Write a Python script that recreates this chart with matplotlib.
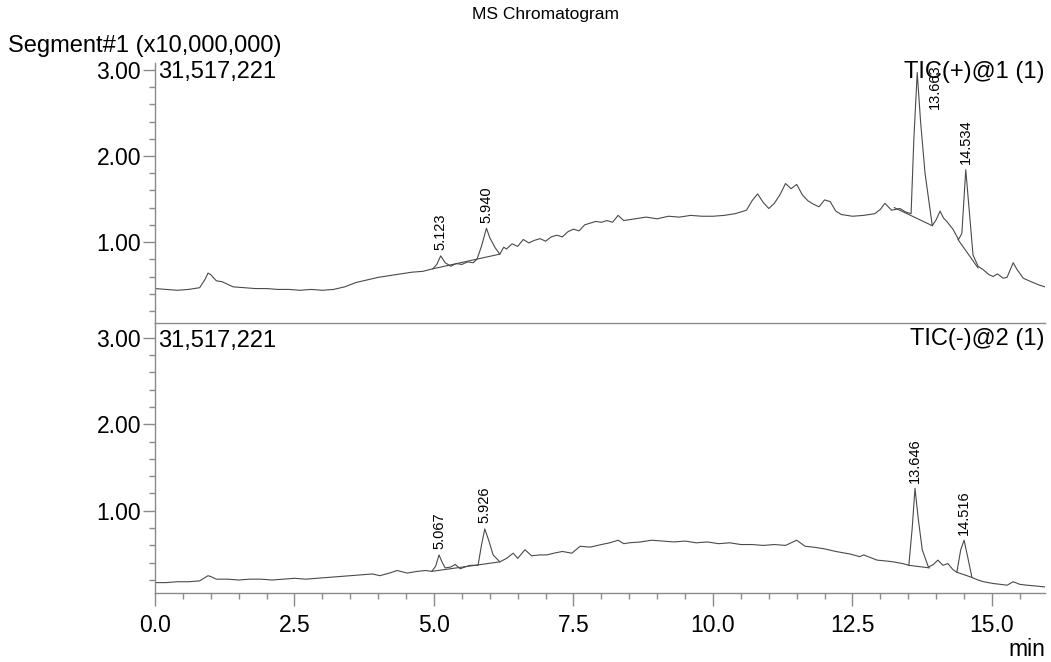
import matplotlib
matplotlib.use("Agg")
import matplotlib.pyplot as plt
from matplotlib.ticker import MultipleLocator, FixedLocator

plt.rcParams['font.family'] = ['Liberation Sans', 'DejaVu Sans']

# ---------------- data ----------------
title = "MS Chromatogram"
segment_label = "Segment#1 (x10,000,000)"
max_intensity_label = "31,517,221"
trace_names = ["TIC(+)@1 (1)", "TIC(-)@2 (1)"]

t_pos = [0.0, 0.2, 0.4, 0.6, 0.8, 0.9, 0.95, 1.0, 1.1, 1.2, 1.4, 1.6, 1.8, 2.0, 2.2, 2.4,
         2.6, 2.8, 3.0, 3.2, 3.4, 3.6, 3.8, 4.0, 4.2, 4.4, 4.6, 4.8, 4.98, 5.05, 5.12, 5.2,
         5.3, 5.4, 5.5, 5.6, 5.7, 5.77, 5.85, 5.94, 6.0, 6.1, 6.18, 6.25, 6.3, 6.4, 6.5,
         6.6, 6.7, 6.8, 6.9, 7.0, 7.1, 7.2, 7.3, 7.4, 7.5, 7.6, 7.7, 7.8, 7.9, 8.0, 8.1,
         8.2, 8.3, 8.4, 8.5, 8.6, 8.8, 9.0, 9.2, 9.4, 9.6, 9.8, 10.0, 10.2, 10.4, 10.6,
         10.7, 10.8, 10.9, 11.0, 11.1, 11.2, 11.3, 11.4, 11.5, 11.6, 11.7, 11.8, 11.9,
         12.0, 12.1, 12.2, 12.3, 12.5, 12.7, 12.9, 13.0, 13.08, 13.2, 13.35, 13.45, 13.55,
         13.6, 13.66, 13.72, 13.8, 13.93, 14.0, 14.07, 14.13, 14.19, 14.3, 14.4, 14.46,
         14.53, 14.6, 14.66, 14.75, 14.84, 14.95, 15.02, 15.1, 15.2, 15.27, 15.38, 15.45,
         15.56, 15.7, 15.85, 15.95]
i_pos = [0.46, 0.45, 0.44, 0.45, 0.47, 0.57, 0.64, 0.62, 0.55, 0.54, 0.48, 0.47, 0.46, 0.46,
         0.45, 0.45, 0.44, 0.45, 0.44, 0.45, 0.48, 0.53, 0.56, 0.59, 0.61, 0.63, 0.65, 0.66,
         0.69, 0.74, 0.84, 0.76, 0.72, 0.75, 0.74, 0.77, 0.76, 0.80, 0.95, 1.16, 1.05, 0.93,
         0.86, 0.94, 0.92, 0.98, 0.95, 1.03, 0.99, 1.02, 1.04, 1.01, 1.06, 1.08, 1.06, 1.12,
         1.15, 1.13, 1.20, 1.22, 1.24, 1.23, 1.25, 1.23, 1.31, 1.25, 1.26, 1.27, 1.29, 1.27,
         1.30, 1.29, 1.31, 1.30, 1.30, 1.31, 1.33, 1.37, 1.48, 1.56, 1.46, 1.39, 1.45, 1.55,
         1.68, 1.62, 1.67, 1.55, 1.48, 1.44, 1.41, 1.49, 1.47, 1.36, 1.32, 1.30, 1.31, 1.33,
         1.38, 1.45, 1.37, 1.39, 1.35, 1.33, 2.20, 2.97, 2.40, 1.80, 1.19, 1.26, 1.36, 1.28,
         1.24, 1.15, 1.03, 1.10, 1.84, 1.30, 0.85, 0.72, 0.68, 0.62, 0.60, 0.63, 0.58, 0.59,
         0.76, 0.68, 0.58, 0.54, 0.50, 0.48]

t_neg = [0.0, 0.2, 0.4, 0.6, 0.8, 0.9, 0.95, 1.0, 1.1, 1.3, 1.5, 1.7, 1.9, 2.1, 2.3, 2.5,
         2.7, 2.9, 3.1, 3.3, 3.5, 3.7, 3.9, 4.03, 4.2, 4.34, 4.52, 4.7, 4.85, 4.96, 5.03,
         5.09, 5.15, 5.2, 5.3, 5.38, 5.47, 5.55, 5.65, 5.79, 5.85, 5.91, 5.98, 6.06, 6.18,
         6.3, 6.42, 6.5, 6.63, 6.75, 6.9, 7.02, 7.15, 7.3, 7.47, 7.62, 7.8, 8.0, 8.15, 8.3,
         8.4, 8.5, 8.7, 8.9, 9.1, 9.3, 9.5, 9.7, 9.9, 10.1, 10.3, 10.5, 10.7, 10.9, 11.1,
         11.3, 11.5, 11.65, 11.8, 12.0, 12.2, 12.46, 12.63, 12.7, 12.94, 13.1, 13.23, 13.4,
         13.51, 13.57, 13.62, 13.68, 13.75, 13.86, 13.95, 14.03, 14.12, 14.21, 14.3, 14.37,
         14.44, 14.5, 14.57, 14.64, 14.75, 14.85, 15.02, 15.15, 15.27, 15.38, 15.5, 15.63,
         15.8, 15.95]
i_neg = [0.17, 0.17, 0.18, 0.18, 0.19, 0.23, 0.25, 0.24, 0.21, 0.21, 0.20, 0.21, 0.21, 0.20,
         0.21, 0.22, 0.21, 0.22, 0.23, 0.24, 0.25, 0.26, 0.27, 0.25, 0.28, 0.31, 0.28, 0.30,
         0.31, 0.30, 0.36, 0.49, 0.40, 0.34, 0.35, 0.38, 0.33, 0.35, 0.37, 0.37, 0.60, 0.79,
         0.66, 0.49, 0.41, 0.45, 0.51, 0.45, 0.55, 0.48, 0.49, 0.49, 0.51, 0.53, 0.51, 0.59,
         0.58, 0.61, 0.63, 0.66, 0.62, 0.63, 0.64, 0.66, 0.65, 0.64, 0.65, 0.63, 0.64, 0.62,
         0.63, 0.61, 0.61, 0.60, 0.61, 0.60, 0.66, 0.59, 0.58, 0.56, 0.53, 0.50, 0.47, 0.49,
         0.43, 0.42, 0.41, 0.39, 0.37, 0.80, 1.26, 0.90, 0.55, 0.35, 0.38, 0.43, 0.37, 0.39,
         0.32, 0.29, 0.55, 0.66, 0.45, 0.23, 0.20, 0.18, 0.16, 0.15, 0.14, 0.18, 0.15, 0.14,
         0.13, 0.12]

# integration baselines (start time, start value, end time, end value)
base_pos = [(4.98, 0.69, 6.18, 0.86), (13.25, 1.40, 13.93, 1.19), (14.39, 1.03, 14.75, 0.70)]
base_neg = [(4.96, 0.30, 6.18, 0.41), (13.51, 0.37, 13.88, 0.34), (14.37, 0.29, 14.64, 0.23)]

# peak labels (retention time label, apex time, apex value)
peaks_pos = [("5.123", 5.12, 0.84), ("5.940", 5.94, 1.16), ("13.663", 13.66, 2.97), ("14.534", 14.53, 1.84)]
peaks_neg = [("5.067", 5.09, 0.49), ("5.926", 5.91, 0.79), ("13.646", 13.62, 1.26), ("14.516", 14.50, 0.66)]

x_major = [0.0, 2.5, 5.0, 7.5, 10.0, 12.5, 15.0]
y_major = [1.0, 2.0, 3.0]

# ---------------- figure ----------------
W, H = 1051, 662
fig = plt.figure(figsize=(W / 100, H / 100), dpi=100)

def fx(px):
    return px / W

def fy(py):
    return 1 - py / H

left, right = 155, 1045
ax1 = fig.add_axes([fx(left), fy(323), fx(right - left), (323 - 63) / H])
ax2 = fig.add_axes([fx(left), fy(593), fx(right - left), (593 - 323) / H])

line_col = '#4a4a4a'
axis_col = '#8a8a8a'

for ax, t, v, bases, peaks, ylim in [
    (ax1, t_pos, i_pos, base_pos, peaks_pos, (0.06, 3.08)),
    (ax2, t_neg, i_neg, base_neg, peaks_neg, (0.05, 3.17)),
]:
    ax.plot(t, v, color=line_col, lw=0.8)
    for (x0, y0, x1, y1) in bases:
        ax.plot([x0, x1], [y0, y1], color=line_col, lw=0.8)
    ax.set_xlim(0, 15.95)
    ax.set_ylim(*ylim)
    for s in ['top', 'right']:
        ax.spines[s].set_visible(False)
    ax.spines['left'].set_color(axis_col)
    ax.spines['bottom'].set_color(axis_col)
    ax.spines['left'].set_linewidth(1.0)
    ax.spines['bottom'].set_linewidth(1.0)
    ax.yaxis.set_major_locator(FixedLocator(y_major))
    ax.yaxis.set_minor_locator(MultipleLocator(0.2))
    ax.set_yticklabels([f"{y:.2f}" for y in y_major])
    ax.tick_params(axis='y', which='major', length=9, width=1.0, color=axis_col,
                   labelsize=16.5, pad=1)
    ax.tick_params(axis='y', which='minor', length=4.3, width=1.0, color=axis_col)
    ax.patch.set_alpha(0)
    for lab, tx, ty in peaks:
        if ty > 2.5:
            ax.text(tx + 0.31, ylim[1] - 0.02, lab, rotation=90, ha='center', va='top',
                    fontsize=10.5)
        else:
            ax.annotate(lab, (tx, ty), xytext=(0, 4), textcoords='offset points',
                        rotation=90, ha='center', va='bottom', fontsize=10.5)

ax1.tick_params(axis='x', which='both', bottom=False, labelbottom=False)
ax2.spines['top'].set_visible(False)
ax2.xaxis.set_major_locator(FixedLocator(x_major))
ax2.xaxis.set_minor_locator(MultipleLocator(0.5))
ax2.set_xticklabels([f"{x:.1f}" for x in x_major])
ax2.tick_params(axis='x', which='major', length=9, width=1.0, color=axis_col,
                labelsize=16.5, pad=6)
ax2.tick_params(axis='x', which='minor', length=4.3, width=1.0, color=axis_col)

fig.text(fx(545), fy(15), title, ha='center', va='center', fontsize=12.5)
fig.text(fx(8), fy(46), segment_label, ha='left', va='center', fontsize=17)
fig.text(fx(158), fy(72), max_intensity_label, ha='left', va='center', fontsize=17)
fig.text(fx(158), fy(341), max_intensity_label, ha='left', va='center', fontsize=17)
fig.text(fx(1045), fy(72), trace_names[0], ha='right', va='center', fontsize=17)
fig.text(fx(1045), fy(339), trace_names[1], ha='right', va='center', fontsize=17)
fig.text(fx(1045), fy(650), "min", ha='right', va='center', fontsize=16.5)

fig.savefig("out.png", dpi=100)
